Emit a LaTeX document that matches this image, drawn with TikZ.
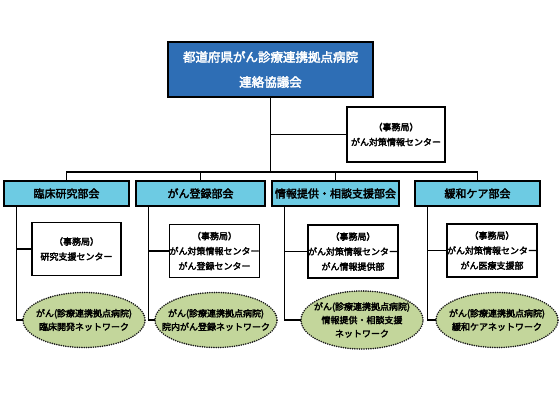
\documentclass[tikz,border=0pt]{standalone}
\usepackage{fontspec}
\setmainfont{Noto Sans CJK JP}[AutoFakeBold=2.8]
\usetikzlibrary{positioning,shapes.geometric}

\definecolor{councilblue}{HTML}{2E6EB5}
\definecolor{bukaicyan}{HTML}{6DCBE3}
\definecolor{netgreen}{HTML}{C3D69B}

\begin{document}
\begin{tikzpicture}[x=1pt, y=-1pt,
  council/.style={draw=black, line width=1.4pt, fill=councilblue, text=white,
    minimum width=205pt, minimum height=55pt, align=center, inner sep=0pt,
    font=\bfseries\fontsize{12.5}{25}\selectfont},
  bukai/.style={draw=black, line width=1.4pt, fill=bukaicyan,
    minimum height=25pt, inner sep=0pt, font=\bfseries\fontsize{11}{13}\selectfont},
  office/.style={draw=black, line width=1.2pt, fill=white, align=center,
    minimum width=89pt, minimum height=53pt, inner sep=0pt,
    font=\bfseries\fontsize{9}{15}\selectfont},
  network/.style={ellipse, draw=black!90, line width=1.8pt, line cap=round,
    dash pattern=on 0pt off 2.3pt, fill=netgreen,
    minimum width=122pt, minimum height=55pt, inner xsep=-25pt, inner ysep=0pt,
    align=center, font=\bfseries\fontsize{9}{13.5}\selectfont},
  link/.style={line width=1.1pt, line cap=rect}]
\useasboundingbox (0,0) rectangle (560,420);

% council and its office
\node[council] (council) at (270.5,69.5) {都道府県がん診療連携拠点病院\\連絡協議会};
\node[office, minimum width=98pt, minimum height=55pt] (center) at (396,134.5)
  {（事務局）\\がん対策情報センター};
\coordinate (bus) at (270.5,172);

% committees
\node[bukai, minimum width=125pt] (rinsho) at (66.5,193.5) {臨床研究部会};
\node[bukai, minimum width=129pt] (toroku) at (200.5,193.5) {がん登録部会};
\node[bukai, minimum width=127pt] (joho) at (335.5,193.5) {情報提供・相談支援部会};
\node[bukai, minimum width=125pt] (kanwa) at (477.5,193.5) {緩和ケア部会};

% offices
\node[office] (o1) at (76.5,249) {（事務局）\\研究支援センター};
\node[office] (o2) at (214.5,251) {（事務局）\\がん対策情報センター\\がん登録センター};
\node[office] (o3) at (353,251.5) {（事務局）\\がん対策情報センター\\がん情報提供部};
\node[office] (o4) at (492,250.5) {（事務局）\\がん対策情報センター\\がん医療支援部};

% networks
\node[network] (n1) at (84,320) {がん(診療連携拠点病院)\\臨床開発ネットワーク};
\node[network] (n2) at (216,320) {がん(診療連携拠点病院)\\院内がん登録ネットワーク};
\node[network, minimum height=58pt] (n3) at (362,320) {がん(診療連携拠点病院)\\情報提供・相談支援\\ネットワーク};
\node[network] (n4) at (497,320) {がん(診療連携拠点病院)\\緩和ケアネットワーク};

% connectors
\draw[link] (council.south) -- (bus);
\draw[link] (center.west) -- (center.west -| council.south);
\draw[link] (rinsho.north) |- (bus) -| (kanwa.north);
\draw[link] (toroku.north) -- (toroku.north |- bus);
\draw[link] (joho.north) -- (joho.north |- bus);

\foreach \c/\o/\n in {rinsho/o1/n1, toroku/o2/n2, joho/o3/n3, kanwa/o4/n4} {
  \coordinate (\c-v) at ([xshift=13pt]\c.south west);
  \draw[link] (\c-v) |- (\n.west);
  \draw[link] (\o.west) -- (\o.west -| \c-v);
}
\end{tikzpicture}
\end{document}
